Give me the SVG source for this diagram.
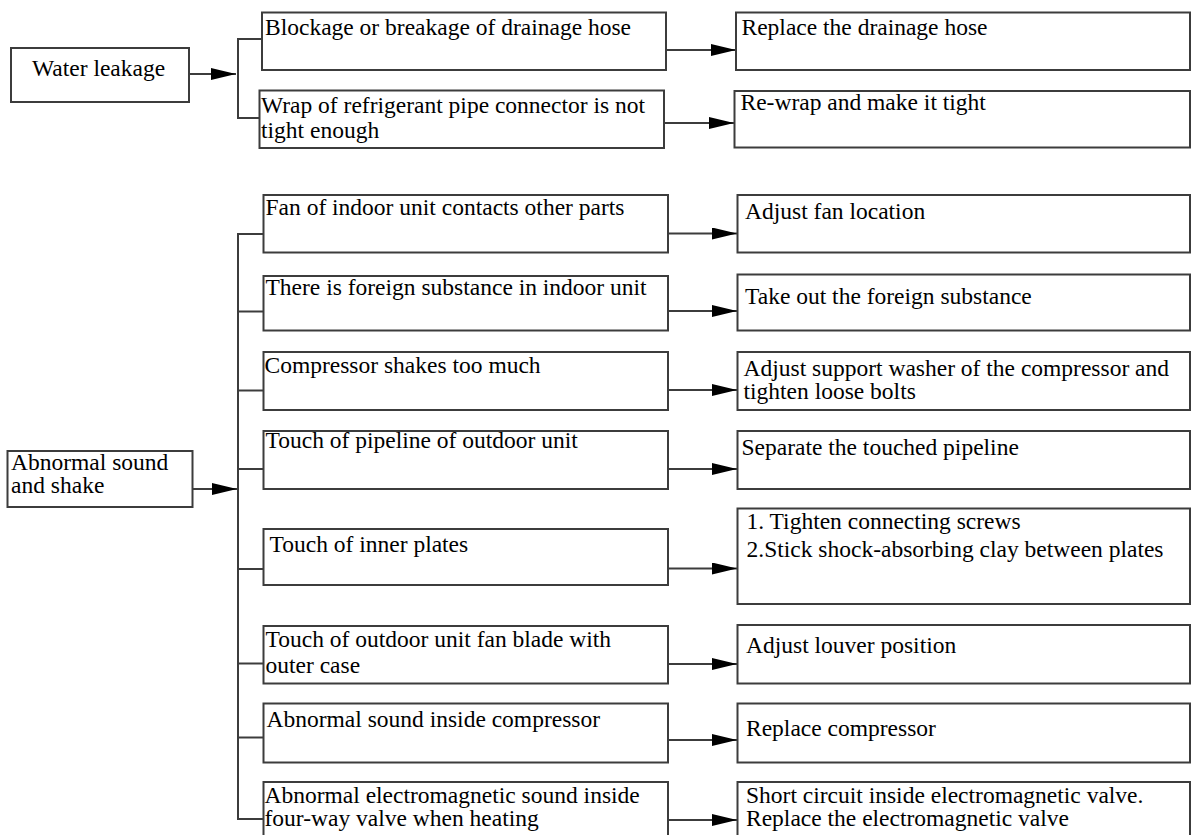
<svg xmlns="http://www.w3.org/2000/svg" width="1192" height="835" viewBox="0 0 1192 835">
<style>
.box{fill:#fff;stroke:#3c3c3c;stroke-width:2}
.t{font-family:'Liberation Serif','Times New Roman',serif;font-size:23.5px;fill:#000}
.c{stroke:#3c3c3c;stroke-width:2;fill:none}
.a{stroke:#3c3c3c;stroke-width:2;fill:none;marker-end:url(#ah)}
</style>
<defs>
<marker id="ah" markerUnits="userSpaceOnUse" markerWidth="26" markerHeight="12" refX="25" refY="6" orient="auto">
<path d="M0,0 L25,6 L0,12 z" fill="#000"/>
</marker>
</defs>
<rect width="1192" height="835" fill="#fff"/>

<g id="connectors">
<line class="a" x1="189" y1="74" x2="236" y2="74"/>
<polyline class="c" points="262,39 238,39 238,118 260,118"/>
<line class="a" x1="666" y1="50" x2="736" y2="50"/>
<line class="a" x1="664" y1="123" x2="734" y2="123"/>

<line class="a" x1="193" y1="489" x2="237" y2="489"/>
<line class="c" x1="238" y1="233" x2="238" y2="820"/>
<line class="c" x1="238" y1="234" x2="263" y2="234"/>
<line class="c" x1="238" y1="311.5" x2="263" y2="311.5"/>
<line class="c" x1="238" y1="390.5" x2="263" y2="390.5"/>
<line class="c" x1="238" y1="469" x2="263" y2="469"/>
<line class="c" x1="238" y1="569" x2="263" y2="569"/>
<line class="c" x1="238" y1="663.5" x2="263" y2="663.5"/>
<line class="c" x1="238" y1="737.5" x2="263" y2="737.5"/>
<line class="c" x1="238" y1="819" x2="263" y2="819"/>

<line class="a" x1="668" y1="233.5" x2="737" y2="233.5"/>
<line class="a" x1="668" y1="311" x2="737" y2="311"/>
<line class="a" x1="668" y1="390" x2="737" y2="390"/>
<line class="a" x1="668" y1="469" x2="737" y2="469"/>
<line class="a" x1="668" y1="568.5" x2="737" y2="568.5"/>
<line class="a" x1="668" y1="664" x2="737" y2="664"/>
<line class="a" x1="668" y1="740" x2="737" y2="740"/>
<line class="a" x1="668" y1="820" x2="737" y2="820"/>
</g>

<g id="water-leakage"><rect class="box" x="11" y="48" width="178" height="54"/><text class="t" x="32" y="76">Water leakage</text></g>
<g id="cause-drainage-hose"><rect class="box" x="262" y="12.5" width="404" height="57.5"/><text class="t" x="265" y="34.5">Blockage or breakage of drainage hose</text></g>
<g id="cause-wrap"><rect class="box" x="259.5" y="90.5" width="404.5" height="57.5"/><text class="t" x="261" y="113">Wrap of refrigerant pipe connector is not</text><text class="t" x="261" y="137.5">tight enough</text></g>
<g id="fix-drainage-hose"><rect class="box" x="736" y="12.5" width="454" height="57.5"/><text class="t" x="741.5" y="35">Replace the drainage hose</text></g>
<g id="fix-wrap"><rect class="box" x="734.5" y="91" width="455.5" height="56.5"/><text class="t" x="740.5" y="110">Re-wrap and make it tight</text></g>

<g id="abnormal-sound"><rect class="box" x="7.5" y="451" width="185" height="56"/><text class="t" x="11" y="470">Abnormal sound</text><text class="t" x="11" y="493">and shake</text></g>

<g id="cause-1"><rect class="box" x="263.5" y="195" width="404.5" height="57.5"/><text class="t" x="265.5" y="215">Fan of indoor unit contacts other parts</text></g>
<g id="cause-2"><rect class="box" x="263.5" y="276" width="404.5" height="54.5"/><text class="t" x="265.5" y="295">There is foreign substance in indoor unit</text></g>
<g id="cause-3"><rect class="box" x="263.5" y="352" width="404.5" height="58"/><text class="t" x="264.5" y="372.5">Compressor shakes too much</text></g>
<g id="cause-4"><rect class="box" x="263.5" y="431" width="404.5" height="58"/><text class="t" x="265.5" y="448">Touch of pipeline of outdoor unit</text></g>
<g id="cause-5"><rect class="box" x="263.5" y="529" width="404.5" height="56"/><text class="t" x="269.5" y="552">Touch of inner plates</text></g>
<g id="cause-6"><rect class="box" x="263.5" y="626" width="404.5" height="57.5"/><text class="t" x="265.5" y="646.5">Touch of outdoor unit fan blade with</text><text class="t" x="265.5" y="672.5">outer case</text></g>
<g id="cause-7"><rect class="box" x="263.5" y="703.5" width="404.5" height="59"/><text class="t" x="266.5" y="727">Abnormal sound inside compressor</text></g>
<g id="cause-8"><rect class="box" x="263.5" y="782" width="404.5" height="60"/><text class="t" x="264.5" y="802.5">Abnormal electromagnetic sound inside</text><text class="t" x="264.5" y="826">four-way valve when heating</text></g>

<g id="fix-1"><rect class="box" x="737.5" y="195" width="452.5" height="57.5"/><text class="t" x="745" y="219">Adjust fan location</text></g>
<g id="fix-2"><rect class="box" x="737.5" y="274.5" width="452.5" height="56"/><text class="t" x="745" y="304">Take out the foreign substance</text></g>
<g id="fix-3"><rect class="box" x="737.5" y="352" width="452.5" height="58"/><text class="t" x="743.5" y="376">Adjust support washer of the compressor and</text><text class="t" x="743.5" y="398.5">tighten loose bolts</text></g>
<g id="fix-4"><rect class="box" x="737.5" y="431" width="452.5" height="58"/><text class="t" x="741.5" y="455">Separate the touched pipeline</text></g>
<g id="fix-5"><rect class="box" x="737.5" y="508.5" width="452.5" height="95.5"/><text class="t" x="746.5" y="529">1. Tighten connecting screws</text><text class="t" x="746.5" y="557">2.Stick shock-absorbing clay between plates</text></g>
<g id="fix-6"><rect class="box" x="737.5" y="625" width="452.5" height="58.5"/><text class="t" x="746" y="652.5">Adjust louver position</text></g>
<g id="fix-7"><rect class="box" x="737.5" y="703.5" width="452.5" height="59"/><text class="t" x="746" y="736">Replace compressor</text></g>
<g id="fix-8"><rect class="box" x="737.5" y="782" width="452.5" height="60"/><text class="t" x="746" y="802.5">Short circuit inside electromagnetic valve.</text><text class="t" x="746" y="825.5">Replace the electromagnetic valve</text></g>
</svg>
